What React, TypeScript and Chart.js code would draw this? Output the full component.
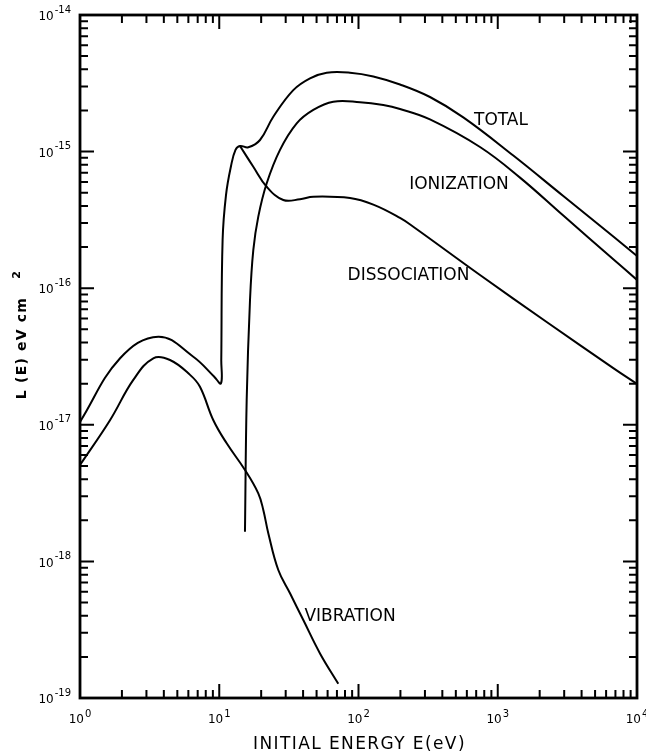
import React, { useEffect, useRef } from "react";
import { Chart, registerables } from "chart.js";

Chart.register(...registerables);

// Energies (eV) and energy-loss values L(E) (eV cm^2)
const totalE = [1, 1.94, 3.65, 6.51, 9.17, 10.29, 10.34, 10.57, 11.18, 12.15, 13.08, 14.09, 16.17, 19.62, 24.44, 34.02, 44.85, 59.1, 86.9, 127.8, 198.6, 326, 565.7, 1293, 2956, 6757, 10000];
const totalL = [1.05e-17, 3.07e-17, 4.42e-17, 3.15e-17, 2.26e-17, 2.01e-17, 2.98e-17, 2.25e-16, 4.81e-16, 7.85e-16, 1.03e-15, 1.1e-15, 1.075e-15, 1.216e-15, 1.8e-15, 2.82e-15, 3.44e-15, 3.78e-15, 3.78e-15, 3.55e-15, 3.1e-15, 2.51e-15, 1.78e-15, 9.36e-16, 4.73e-16, 2.39e-16, 1.72e-16];

const ionE = [15.3, 15.74, 16.63, 17.56, 19.07, 21.92, 27.31, 36.0, 47.36, 65.9, 102.5, 150.7, 198.6, 326, 745.7, 1445, 2956, 6757, 10000];
const ionL = [1.65e-18, 1.52e-17, 8.2e-17, 1.9e-16, 3.34e-16, 5.86e-16, 1.03e-15, 1.61e-15, 2.02e-15, 2.32e-15, 2.3e-15, 2.19e-15, 2.05e-15, 1.72e-15, 1.08e-15, 6.45e-16, 3.4e-16, 1.63e-16, 1.15e-16];

const dissE = [14.09, 17.56, 21.92, 28.84, 38.0, 47.36, 86.9, 127.8, 198.6, 247.4, 745.7, 2246, 6757, 10000];
const dissL = [1.1e-15, 7.75e-16, 5.53e-16, 4.42e-16, 4.48e-16, 4.68e-16, 4.57e-16, 4.09e-16, 3.27e-16, 2.82e-16, 1.25e-16, 5.66e-17, 2.6e-17, 1.99e-17];

const vibE = [1, 1.642, 2.414, 3.36, 4.43, 6.17, 7.27, 9.07, 11.31, 15.3, 19.07, 20.72, 22.5, 26.55, 32.22, 40.15, 52.9, 71.6];
const vibL = [5.08e-18, 1.08e-17, 2.13e-17, 3.07e-17, 2.98e-17, 2.32e-17, 1.9e-17, 1.08e-17, 7.32e-18, 4.67e-18, 3.15e-18, 2.38e-18, 1.61e-18, 8.65e-19, 5.84e-19, 3.72e-19, 2.12e-19, 1.27e-19];

// Axis ticks
const xDecades = [1, 10, 100, 1000, 10000];
const xTickExponents = ["0", "1", "2", "3", "4"];
const yDecades = [1e-14, 1e-15, 1e-16, 1e-17, 1e-18, 1e-19];
const yTickExponents = ["-14", "-15", "-16", "-17", "-18", "-19"];
const minorMultipliers = [2, 3, 4, 5, 6, 7, 8, 9];

// Curve labels (placed in data coordinates)
const curveLabels = ["TOTAL", "IONIZATION", "DISSOCIATION", "VIBRATION"];
const curveLabelE = [1055, 527, 228.6, 86.9];
const curveLabelL = [1.7e-15, 5.69e-16, 1.23e-16, 3.92e-19];

const xTitle = "INITIAL ENERGY E(eV)";
const yTitle = "L (E) eV cm";
const yTitleSup = "2";

const toPts = (xs: number[], ys: number[]) => xs.map((x, i) => ({ x, y: ys[i] }));

const FONT = '"DejaVu Sans", sans-serif';

const decorPlugin = {
  id: "decor",
  afterDraw(chart: any) {
    const { ctx, chartArea, scales } = chart;
    const { left, right, top, bottom } = chartArea;
    const xs = scales.x;
    const ys = scales.y;
    ctx.save();
    ctx.strokeStyle = "#000";
    ctx.fillStyle = "#000";
    ctx.lineWidth = 2;
    ctx.beginPath();
    xDecades.forEach((d, i) => {
      const p = xs.getPixelForValue(d);
      ctx.moveTo(p, bottom); ctx.lineTo(p, bottom - 14);
      ctx.moveTo(p, top); ctx.lineTo(p, top + 14);
      if (i < xDecades.length - 1) {
        minorMultipliers.forEach((m) => {
          const q = xs.getPixelForValue(d * m);
          ctx.moveTo(q, bottom); ctx.lineTo(q, bottom - 8);
          ctx.moveTo(q, top); ctx.lineTo(q, top + 8);
        });
      }
    });
    yDecades.forEach((d, i) => {
      const p = ys.getPixelForValue(d);
      ctx.moveTo(left, p); ctx.lineTo(left + 14, p);
      ctx.moveTo(right, p); ctx.lineTo(right - 14, p);
      if (i < yDecades.length - 1) {
        minorMultipliers.forEach((m) => {
          const q = ys.getPixelForValue(d * m / 10);
          ctx.moveTo(left, q); ctx.lineTo(left + 8, q);
          ctx.moveTo(right, q); ctx.lineTo(right - 8, q);
        });
      }
    });
    ctx.stroke();
    ctx.lineWidth = 2.8;
    ctx.strokeRect(left, top, right - left, bottom - top);

    // x tick labels
    ctx.textBaseline = "middle";
    xDecades.forEach((d, i) => {
      const p = xs.getPixelForValue(d);
      ctx.font = `12px ${FONT}`;
      const w1 = ctx.measureText("10").width;
      ctx.font = `10px ${FONT}`;
      const w2 = ctx.measureText(xTickExponents[i]).width;
      const start = p - (w1 + w2 + 1) / 2;
      ctx.textAlign = "left";
      ctx.font = `12px ${FONT}`;
      ctx.fillText("10", start, bottom + 22);
      ctx.font = `10px ${FONT}`;
      ctx.fillText(xTickExponents[i], start + w1 + 1, bottom + 16);
    });
    // y tick labels
    yDecades.forEach((d, i) => {
      const p = ys.getPixelForValue(d);
      ctx.font = `10px ${FONT}`;
      const w2 = ctx.measureText(yTickExponents[i]).width;
      ctx.textAlign = "right";
      const expRight = left - 9;
      ctx.fillText(yTickExponents[i], expRight, p - 5);
      ctx.font = `12px ${FONT}`;
      ctx.fillText("10", expRight - w2 - 1, p + 2);
    });

    // curve labels
    ctx.font = `17px ${FONT}`;
    ctx.textAlign = "center";
    curveLabels.forEach((t, i) => {
      ctx.fillText(t, xs.getPixelForValue(curveLabelE[i]), ys.getPixelForValue(curveLabelL[i]));
    });

    // x title
    (ctx as any).letterSpacing = "1.4px";
    ctx.font = `17px ${FONT}`;
    ctx.fillText(xTitle, (left + right) / 2 + 1, bottom + 47);

    // y title (rotated)
    ctx.save();
    ctx.translate(22, 334);
    ctx.rotate(-Math.PI / 2);
    ctx.font = `bold 14px ${FONT}`;
    (ctx as any).letterSpacing = "1.2px";
    const wt = ctx.measureText(yTitle).width;
    ctx.textAlign = "left";
    const total = wt + 20 + 8;
    const sx = -total / 2;
    ctx.fillText(yTitle, sx, 0);
    ctx.font = `bold 11px ${FONT}`;
    ctx.fillText(yTitleSup, sx + wt + 18, -5);
    ctx.restore();

    (ctx as any).letterSpacing = "0px";
    ctx.restore();
  },
};

export default function App() {
  const ref = useRef<HTMLCanvasElement>(null);
  useEffect(() => {
    if (!ref.current) return;
    const line = { borderColor: "#000", borderWidth: 2, pointRadius: 0, fill: false, tension: 0.4 };
    const chart = new Chart(ref.current, {
      type: "line",
      data: {
        datasets: [
          { label: "TOTAL", data: toPts(totalE, totalL), ...line },
          { label: "IONIZATION", data: toPts(ionE, ionL), ...line },
          { label: "DISSOCIATION", data: toPts(dissE, dissL), ...line },
          { label: "VIBRATION", data: toPts(vibE, vibL), ...line },
        ],
      },
      options: {
        responsive: false,
        animation: false,
        layout: { padding: { left: 80, top: 15, right: 9, bottom: 58 } },
        plugins: { legend: { display: false }, tooltip: { enabled: false } },
        scales: {
          x: { type: "logarithmic", min: 1, max: 10000, display: false },
          y: { type: "logarithmic", min: 1e-19, max: 1e-14, display: false },
        },
      },
      plugins: [decorPlugin],
    });
    return () => chart.destroy();
  }, []);
  return (
    <div style={{ position: "absolute", left: 0, top: 0, width: 646, height: 756, background: "#fff" }}>
      <canvas ref={ref} width={646} height={756} style={{ display: "block" }} />
    </div>
  );
}
